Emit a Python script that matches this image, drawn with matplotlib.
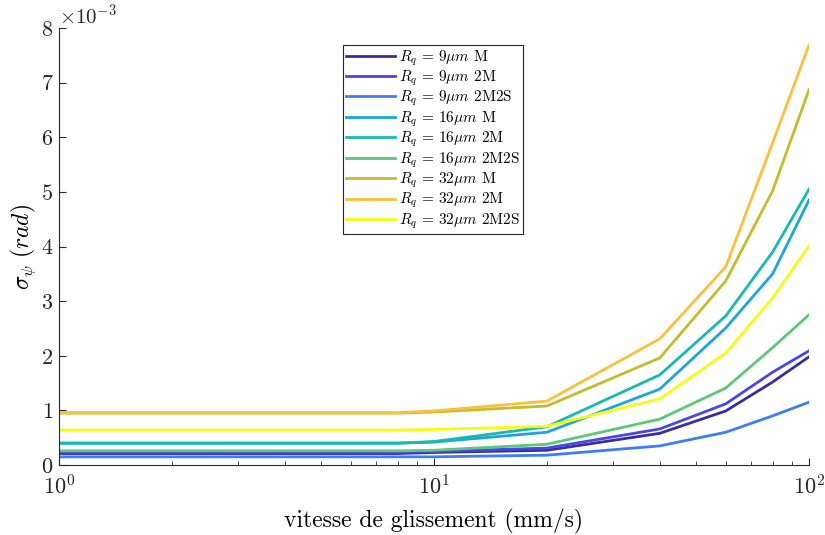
import matplotlib
matplotlib.use("Agg")
import matplotlib.pyplot as plt
from matplotlib.ticker import ScalarFormatter, LogLocator, NullFormatter

plt.rcParams['font.family'] = 'serif'
plt.rcParams['font.serif'] = ['cmr10', 'DejaVu Serif']
plt.rcParams['mathtext.fontset'] = 'cm'
plt.rcParams['axes.formatter.use_mathtext'] = True

speed = [1, 2, 4, 6, 8, 10, 20, 40, 60, 80, 100]

labels = [r'$R_q\,=\,9\mu m$ M', r'$R_q\,=\,9\mu m$ 2M', r'$R_q\,=\,9\mu m$ 2M2S',
          r'$R_q\,=\,16\mu m$ M', r'$R_q\,=\,16\mu m$ 2M', r'$R_q\,=\,16\mu m$ 2M2S',
          r'$R_q\,=\,32\mu m$ M', r'$R_q\,=\,32\mu m$ 2M', r'$R_q\,=\,32\mu m$ 2M2S']

rq9_M     = [0.21e-3, 0.21e-3, 0.21e-3, 0.21e-3, 0.21e-3, 0.23e-3, 0.27e-3, 0.58e-3, 0.99e-3, 1.52e-3, 1.98e-3]
rq9_2M    = [0.23e-3, 0.23e-3, 0.23e-3, 0.23e-3, 0.23e-3, 0.25e-3, 0.31e-3, 0.66e-3, 1.12e-3, 1.70e-3, 2.09e-3]
rq9_2M2S  = [0.15e-3, 0.15e-3, 0.15e-3, 0.15e-3, 0.15e-3, 0.15e-3, 0.18e-3, 0.35e-3, 0.60e-3, 0.90e-3, 1.15e-3]
rq16_M    = [0.40e-3, 0.40e-3, 0.40e-3, 0.40e-3, 0.40e-3, 0.42e-3, 0.60e-3, 1.39e-3, 2.51e-3, 3.50e-3, 4.85e-3]
rq16_2M   = [0.40e-3, 0.40e-3, 0.40e-3, 0.40e-3, 0.40e-3, 0.43e-3, 0.70e-3, 1.65e-3, 2.73e-3, 3.90e-3, 5.05e-3]
rq16_2M2S = [0.26e-3, 0.26e-3, 0.26e-3, 0.26e-3, 0.26e-3, 0.27e-3, 0.38e-3, 0.84e-3, 1.41e-3, 2.15e-3, 2.75e-3]
rq32_M    = [0.95e-3, 0.95e-3, 0.95e-3, 0.95e-3, 0.95e-3, 0.97e-3, 1.08e-3, 1.96e-3, 3.37e-3, 5.02e-3, 6.87e-3]
rq32_2M   = [0.96e-3, 0.96e-3, 0.96e-3, 0.96e-3, 0.96e-3, 0.99e-3, 1.17e-3, 2.31e-3, 3.63e-3, 5.90e-3, 7.69e-3]
rq32_2M2S = [0.64e-3, 0.64e-3, 0.64e-3, 0.64e-3, 0.64e-3, 0.65e-3, 0.71e-3, 1.21e-3, 2.05e-3, 3.06e-3, 4.01e-3]

series = [rq9_M, rq9_2M, rq9_2M2S, rq16_M, rq16_2M, rq16_2M2S, rq32_M, rq32_2M, rq32_2M2S]
colors = ['#3b2c9e', '#4747e6', '#3c7ef5', '#1ca4df', '#14bcb0', '#5cc878', '#c4bc2c', '#fcc03c', '#f8fa10']

fig = plt.figure(figsize=(8.25, 5.35), dpi=100)
ax = fig.add_axes([0.0715, 0.1308, 0.9091, 0.8169])

for y, c, lab in zip(series, colors, labels):
    ax.plot(speed, y, color=c, lw=2.0, label=lab)

ax.set_xscale('log')
ax.set_xlim(1, 100)
ax.set_ylim(0, 8e-3)
ax.set_yticks([i * 1e-3 for i in range(9)])
fmt = ScalarFormatter(useMathText=True)
fmt.set_powerlimits((-3, -3))
ax.yaxis.set_major_formatter(fmt)
ax.yaxis.get_offset_text().set_fontsize(15)

ax.xaxis.set_minor_locator(LogLocator(base=10, subs=range(2, 10)))
ax.xaxis.set_minor_formatter(NullFormatter())

for s in ['top', 'right']:
    ax.spines[s].set_visible(False)
for s in ['left', 'bottom']:
    ax.spines[s].set_color('#262626')
    ax.spines[s].set_linewidth(0.8)

ax.tick_params(axis='y', which='major', direction='in', length=5, labelsize=16, colors='#262626', pad=4)
ax.tick_params(axis='x', which='major', direction='in', length=5, labelsize=16, colors='#262626', pad=7)
ax.tick_params(axis='x', which='minor', direction='in', length=3, colors='#262626')

ax.set_xlabel('vitesse de glissement (mm/s)', fontsize=17, labelpad=7)
ax.set_ylabel(r'$\sigma_\psi\ (rad)$', fontsize=17, labelpad=2)

leg = ax.legend(loc='upper left', bbox_to_anchor=(0.379, 0.961), fontsize=11,
                frameon=True, fancybox=False, framealpha=1, edgecolor='#262626',
                handlelength=3.2, labelspacing=0.06, borderpad=0.2, handletextpad=0.25,
                borderaxespad=0)
leg.get_frame().set_linewidth(0.8)

fig.savefig('out.png', dpi=100)
